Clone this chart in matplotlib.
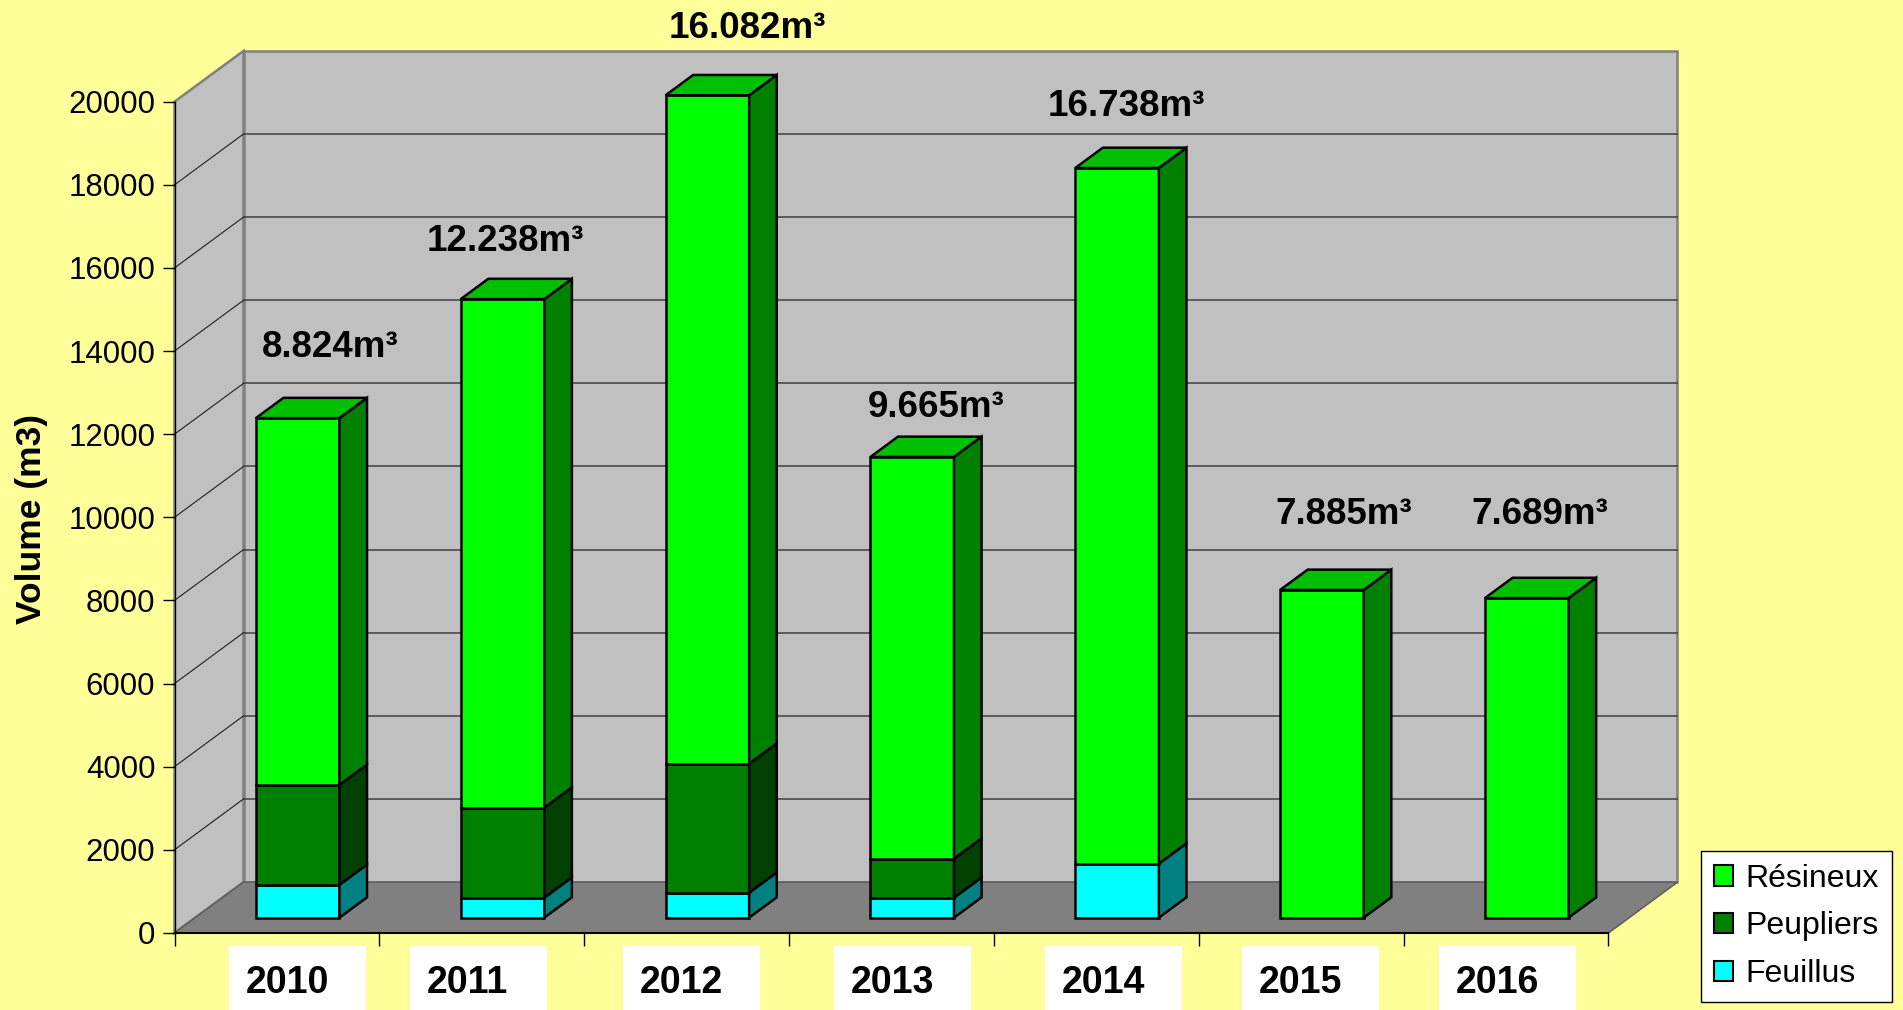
import matplotlib
matplotlib.use('Agg')
import matplotlib.pyplot as plt
from matplotlib.patches import Polygon, Rectangle, Patch
from matplotlib.transforms import IdentityTransform

plt.rcParams['font.family'] = ['Liberation Sans', 'DejaVu Sans']

# ---------------- data ----------------
years = ['2010', '2011', '2012', '2013', '2014', '2015', '2016']
feuillus = [790, 480, 600, 480, 1300, 0, 0]
peupliers = [2405, 2165, 3105, 940, 0, 0, 0]
resineux = [8824, 12238, 16082, 9665, 16738, 7885, 7689]
value_labels = ['8.824m³', '12.238m³', '16.082m³', '9.665m³', '16.738m³', '7.885m³', '7.689m³']
series_names = ['Résineux', 'Peupliers', 'Feuillus']
yticks = list(range(0, 20001, 2000))
y_label = 'Volume (m3)'

# ---------------- style / layout ----------------
W, H, DPI = 1903, 1010, 100
BG = '#FFFF99'
front_colors = {'Feuillus': '#00FFFF', 'Peupliers': '#008000', 'Résineux': '#00FF00'}
side_colors = {'Feuillus': '#008080', 'Peupliers': '#004000', 'Résineux': '#008000'}
top_colors = {'Feuillus': '#00C0C0', 'Peupliers': '#006000', 'Résineux': '#00C000'}

AX_L, AX_R, AX_T, AX_B = 174.5, 1608.5, 101.7, 932.9   # pixel frame of the front plane
DEPTH_PX = (69.0, 50.8)
BAR_W = 0.408
F0, F1 = 0.30, 0.70
# label offsets (pixels) relative to the bar's front top-left corner
label_dx_px = [6, -34, 3, -3, -28, -5, -14]
label_dy_px = [61, 48, 57, 40, 52, 66, 74]
# category text boxes: left offset (px) from each category's left tick
box_off_px = [54.5, 30.6, 38.8, 45.0, 51.1, 43.2, 35.4]
BOX_W, BOX_TOP = 137, 946
CAT_BASELINE = 993.3

fig = plt.figure(figsize=(W / DPI, H / DPI), dpi=DPI, facecolor=BG)
ax = fig.add_axes([AX_L / W, 1 - AX_B / H, (AX_R - AX_L) / W, (AX_B - AX_T) / H])
n = len(years)
ymax = yticks[-1]
ax.set_xlim(0, n)
ax.set_ylim(0, ymax)
ax.patch.set_visible(False)

ddx = DEPTH_PX[0] / (AX_R - AX_L) * n
ddy = DEPTH_PX[1] / (AX_B - AX_T) * ymax


def P(x, y, f):
    return (x + f * ddx, y + f * ddy)


# walls and floor
ax.add_patch(Polygon([P(0, 0, 1), P(n, 0, 1), P(n, ymax, 1), P(0, ymax, 1)], closed=True,
                     fc='#C0C0C0', ec='#808080', lw=1.8, clip_on=False, zorder=0.5))
ax.add_patch(Polygon([P(0, 0, 0), P(0, ymax, 0), P(0, ymax, 1), P(0, 0, 1)], closed=True,
                     fc='#C0C0C0', ec='#808080', lw=1.8, clip_on=False, zorder=0.5))
ax.add_patch(Polygon([P(0, 0, 0), P(n, 0, 0), P(n, 0, 1), P(0, 0, 1)], closed=True,
                     fc='#808080', ec='#606060', lw=1.2, clip_on=False, zorder=0.6))
for v in yticks[1:-1]:
    a, b = P(0, v, 1), P(n, v, 1)
    ax.plot([a[0], b[0]], [a[1], b[1]], color='#404040', lw=1.1, zorder=0.7, clip_on=False)
    c = P(0, v, 0)
    ax.plot([c[0], a[0]], [c[1], a[1]], color='#202020', lw=0.8, zorder=0.7, clip_on=False)

# bars
for i in range(n):
    segs = [('Feuillus', feuillus[i]), ('Peupliers', peupliers[i]), ('Résineux', resineux[i])]
    segs = [s for s in segs if s[1] > 0]
    cum = 0
    x0 = i + 0.5 - BAR_W / 2
    x1 = i + 0.5 + BAR_W / 2
    for k, (name, v) in enumerate(segs):
        z = 3 + i * 0.1 + k * 0.01
        top = cum + v
        ax.bar(i + 0.5 + F0 * ddx, v, width=BAR_W, bottom=cum + F0 * ddy,
               color=front_colors[name], edgecolor='black', linewidth=1.8,
               zorder=z, clip_on=False)
        ax.add_patch(Polygon([P(x1, cum, F0), P(x1, cum, F1), P(x1, top, F1), P(x1, top, F0)],
                             closed=True, fc=side_colors[name], ec='black', lw=1.8,
                             zorder=z, clip_on=False, joinstyle='miter'))
        if k == len(segs) - 1:
            ax.add_patch(Polygon([P(x0, top, F0), P(x1, top, F0), P(x1, top, F1), P(x0, top, F1)],
                                 closed=True, fc=top_colors[name], ec='black', lw=1.8,
                                 zorder=z, clip_on=False, joinstyle='miter'))
        cum = top
    # value label
    ax.annotate(value_labels[i], xy=P(x0, cum, F0),
                xytext=(label_dx_px[i] * 72 / DPI, label_dy_px[i] * 72 / DPI),
                textcoords='offset points', ha='left', va='baseline',
                fontsize=26.5, fontweight='bold', color='black', zorder=10,
                annotation_clip=False)

# axes styling
for s in ['top', 'right']:
    ax.spines[s].set_visible(False)
ax.spines['left'].set_color('black')
ax.spines['left'].set_linewidth(1.0)
ax.spines['bottom'].set_color('black')
ax.spines['bottom'].set_linewidth(1.5)
ax.set_yticks(yticks)
ax.set_yticklabels([str(v) for v in yticks])
ax.tick_params(axis='y', length=8.3, width=1.0, pad=5.5, labelsize=22.5, direction='out', colors='black')
ax.set_xticks(range(n + 1))
ax.set_xticklabels([])
ax.tick_params(axis='x', length=9.4, width=1.0, direction='out', colors='black')

# category labels in white boxes
ident = IdentityTransform()
for i, yr in enumerate(years):
    xl = ax.transData.transform((i, 0))[0] + box_off_px[i]
    fig.patches.append(Rectangle((xl, -10), BOX_W, (H - BOX_TOP) + 10, transform=ident,
                                 fc='white', ec='none', zorder=1))
    fig.text(xl + 17, H - CAT_BASELINE, yr, transform=ident, ha='left', va='baseline',
             fontsize=27, fontweight='bold', color='black', zorder=2)

# y label
fig.text(31.7 / W, 1 - 519 / H, y_label, rotation=90, ha='center', va='center',
         fontsize=25.5, fontweight='bold', color='black')

# legend
handles = [Patch(facecolor=front_colors[s], edgecolor='black', linewidth=1.5) for s in series_names]
leg = fig.legend(handles=handles, labels=series_names, loc='upper left',
                 bbox_to_anchor=(1701 / W, 1 - 851 / H), bbox_transform=fig.transFigure,
                 borderaxespad=0, fontsize=23, frameon=True, fancybox=False,
                 edgecolor='black', facecolor='white', framealpha=1,
                 handlelength=0.6, handleheight=0.6, handletextpad=0.4,
                 borderpad=0.4, labelspacing=0.55)
leg.get_frame().set_linewidth(1.0)

fig.savefig('out.png', dpi=DPI, facecolor=BG)
